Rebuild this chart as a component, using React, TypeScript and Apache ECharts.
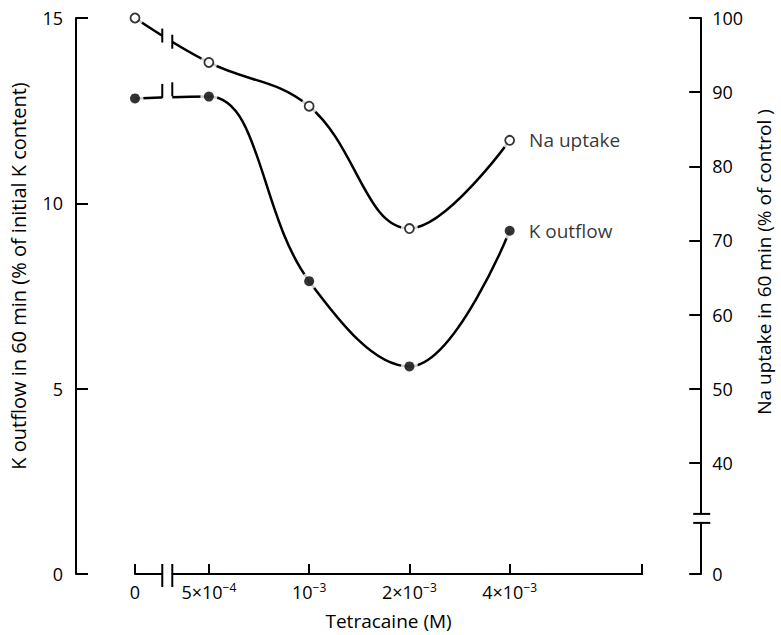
import React, { useEffect, useRef } from 'react';
import * as echarts from 'echarts';

// Tetracaine concentrations (M)
const concentrations = [0, 5e-4, 1e-3, 2e-3, 4e-3];
// K outflow in 60 min (% of initial K content)
const kOutflow = [12.83, 12.88, 7.9, 5.6, 9.26];
// Na uptake in 60 min (% of control)
const naUptake = [100, 94.0, 88.1, 71.6, 83.5];

// Broken log axis: "0" is drawn at ZERO_POSITION, axis ends at AXIS_END
const ZERO_POSITION = 3e-4;
const AXIS_END = 1e-2;
const X_BREAK = 3.75e-4;
const xTickValues = [3e-4, 5e-4, 1e-3, 2e-3, 4e-3, 1e-2];
const xTickLabels = ['0', '5×10{sup|−4}', '10{sup|−3}', '2×10{sup|−3}', '4×10{sup|−3}', ''];

const kTickValues = [0, 5, 10, 15];
const naTickValues = [25, 40, 50, 60, 70, 80, 90, 100];
const naTickLabels = ['0', '40', '50', '60', '70', '80', '90', '100'];
const NA_BREAK = 32.5;

const SMOOTH = 0.4;
const FONT = '"Open Sans", "Noto Sans", sans-serif';
const INK = '#000';
const AXIS_OFFSET = 59;

const xPos = (c: number) => (c === 0 ? ZERO_POSITION : c);

function labelFor(values: number[], labels: string[], v: number) {
  let best = 0;
  for (let i = 1; i < values.length; i++) {
    if (Math.abs(Math.log(values[i]) - Math.log(v)) < Math.abs(Math.log(values[best]) - Math.log(v))) best = i;
  }
  return labels[best];
}

function firstSegmentY(p0: number[], p1: number[], p2: number[], x: number) {
  const vx = p2[0] - p0[0];
  const vy = p2[1] - p0[1];
  const d0 = Math.hypot(p1[0] - p0[0], p1[1] - p0[1]);
  const d1 = Math.hypot(p2[0] - p1[0], p2[1] - p1[1]);
  const r = d1 / (d0 + d1);
  const c0 = p0;
  const c1 = [p1[0] - vx * SMOOTH * (1 - r), p1[1] - vy * SMOOTH * (1 - r)];
  const bez = (t: number, i: number) => {
    const u = 1 - t;
    return u * u * u * p0[i] + 3 * u * u * t * c0[i] + 3 * u * t * t * c1[i] + t * t * t * p1[i];
  };
  let lo = 0, hi = 1;
  for (let k = 0; k < 40; k++) {
    const m = (lo + hi) / 2;
    if (bez(m, 0) < x) lo = m; else hi = m;
  }
  return bez((lo + hi) / 2, 1);
}

export default function App() {
  const ref = useRef<HTMLDivElement>(null);
  useEffect(() => {
    if (!ref.current) return;
    const chart = echarts.init(ref.current, undefined, { renderer: 'svg' });
    const kData = concentrations.map((c, i) => [xPos(c), kOutflow[i]]);
    const naData = concentrations.map((c, i) => [xPos(c), naUptake[i]]);
    const last = concentrations.length - 1;
    const seriesLabel = (text: string) => ({
      show: true,
      position: 'right',
      distance: 14,
      formatter: text,
      fontFamily: FONT,
      fontSize: 19,
      color: INK,
    });

    const option: any = {
      animation: false,
      textStyle: { fontFamily: FONT, color: INK },
      grid: { left: 135, right: 133, top: 18, bottom: 58, containLabel: false },
      xAxis: {
        type: 'log',
        logBase: 10,
        min: ZERO_POSITION,
        max: AXIS_END,
        name: 'Tetracaine (M)',
        nameLocation: 'middle',
        nameGap: 37,
        nameTextStyle: { fontFamily: FONT, fontSize: 19, color: INK },
        axisLine: { show: true, lineStyle: { color: INK, width: 2 } },
        axisTick: { show: true, inside: true, length: 10, lineStyle: { color: INK, width: 2 }, customValues: xTickValues },
        axisLabel: {
          show: true,
          margin: 7,
          fontFamily: FONT,
          fontSize: 18,
          lineHeight: 22,
          color: INK,
          customValues: xTickValues.slice(0, 5),
          formatter: (v: number) => labelFor(xTickValues, xTickLabels, v),
          rich: {
            sup: { fontFamily: FONT, fontSize: 12, lineHeight: 12, verticalAlign: 'top', color: INK },
          },
        },
        splitLine: { show: false },
        minorTick: { show: false },
      },
      yAxis: [
        {
          type: 'value',
          position: 'left',
          offset: AXIS_OFFSET,
          min: 0,
          max: 15,
          interval: 5,
          name: 'K outflow in 60 min (% of initial K content)',
          nameLocation: 'middle',
          nameGap: 48,
          nameRotate: 90,
          nameTextStyle: { fontFamily: FONT, fontSize: 20, color: INK, padding: [0, 0, 0, 40] },
          axisLine: { show: true, lineStyle: { color: INK, width: 2 } },
          axisTick: { show: true, inside: true, length: 12, lineStyle: { color: INK, width: 2 }, customValues: kTickValues },
          axisLabel: { show: true, margin: 13, fontFamily: FONT, fontSize: 18, color: INK, customValues: kTickValues },
          splitLine: { show: false },
        },
        {
          type: 'value',
          position: 'right',
          offset: AXIS_OFFSET,
          min: 25,
          max: 100,
          name: 'Na uptake in 60 min (% of control )',
          nameLocation: 'middle',
          nameGap: 46,
          nameRotate: 90,
          nameTextStyle: { fontFamily: FONT, fontSize: 19, color: INK, padding: [0, 0, 0, 68] },
          axisLine: { show: true, lineStyle: { color: INK, width: 2 } },
          axisTick: { show: true, inside: true, length: 12, lineStyle: { color: INK, width: 2 }, customValues: naTickValues },
          axisLabel: {
            show: true,
            margin: 11,
            fontFamily: FONT,
            fontSize: 18,
            color: INK,
            customValues: naTickValues,
            formatter: (v: number) => naTickLabels[naTickValues.indexOf(Math.round(v))] ?? String(v),
          },
          splitLine: { show: false },
        },
      ],
      series: [
        {
          name: 'K outflow line',
          type: 'line',
          data: kData,
          yAxisIndex: 0,
          smooth: SMOOTH,
          showSymbol: false,
          clip: false,
          silent: true,
          lineStyle: { color: INK, width: 2.5 },
          z: 2,
        },
        {
          name: 'Na uptake line',
          type: 'line',
          data: naData,
          yAxisIndex: 1,
          smooth: SMOOTH,
          showSymbol: false,
          clip: false,
          silent: true,
          lineStyle: { color: INK, width: 2.5 },
          z: 2,
        },
        {
          type: 'scatter',
          data: kData,
          yAxisIndex: 0,
          symbol: 'circle',
          symbolSize: 17,
          itemStyle: { color: '#fff' },
          clip: false,
          silent: true,
          z: 3,
        },
        {
          type: 'scatter',
          data: naData,
          yAxisIndex: 1,
          symbol: 'circle',
          symbolSize: 17,
          itemStyle: { color: '#fff' },
          clip: false,
          silent: true,
          z: 3,
        },
        {
          name: 'K outflow',
          type: 'scatter',
          yAxisIndex: 0,
          data: kData.map((d, i) => (i === last ? { value: d, label: seriesLabel('K outflow') } : { value: d })),
          symbol: 'circle',
          symbolSize: 10,
          itemStyle: { color: INK },
          clip: false,
          z: 4,
        },
        {
          name: 'Na uptake',
          type: 'scatter',
          yAxisIndex: 1,
          data: naData.map((d, i) => (i === last ? { value: d, label: seriesLabel('Na uptake') } : { value: d })),
          symbol: 'circle',
          symbolSize: 9,
          itemStyle: { color: '#fff', borderColor: INK, borderWidth: 1.8 },
          clip: false,
          z: 4,
        },
      ],
    };
    chart.setOption(option);

    // Axis / curve break decorations, positioned through the chart's own scales
    const toPx = (yAxisIndex: number, x: number, y: number) =>
      chart.convertToPixel({ xAxisIndex: 0, yAxisIndex } as any, [x, y]) as number[];
    const bx = toPx(0, X_BREAK, 0)[0];
    const axisY = toPx(0, ZERO_POSITION, 0)[1];
    const gap = 5;
    const els: any[] = [];
    els.push({ type: 'rect', z: 100, shape: { x: bx - gap, y: 0, width: gap * 2, height: axisY + 2 }, style: { fill: '#fff' } });
    [bx - gap, bx + gap].forEach((x) => {
      els.push({ type: 'line', z: 101, shape: { x1: x, y1: axisY - 10, x2: x, y2: axisY + 13 }, style: { stroke: INK, lineWidth: 2 } });
    });
    const curves: [number, number[]][] = [
      [0, kOutflow],
      [1, naUptake],
    ];
    curves.forEach(([ai, vals]) => {
      const p = [0, 1, 2].map((i) => toPx(ai, xPos(concentrations[i]), vals[i]));
      [bx - gap, bx + gap].forEach((x) => {
        const y = firstSegmentY(p[0], p[1], p[2], x);
        els.push({ type: 'line', z: 101, shape: { x1: x, y1: y - 7, x2: x, y2: y + 7 }, style: { stroke: INK, lineWidth: 2 } });
      });
    });
    const rx = toPx(0, AXIS_END, 0)[0] + AXIS_OFFSET;
    const ry = toPx(1, AXIS_END, NA_BREAK)[1];
    const rg = 4.5;
    els.push({ type: 'rect', z: 100, shape: { x: rx - 4, y: ry - rg, width: 8, height: rg * 2 }, style: { fill: '#fff' } });
    [ry - rg, ry + rg].forEach((y) => {
      els.push({ type: 'line', z: 101, shape: { x1: rx - 8, y1: y, x2: rx + 9, y2: y }, style: { stroke: INK, lineWidth: 2 } });
    });
    chart.setOption({ graphic: { elements: els } });

    return () => chart.dispose();
  }, []);
  return <div ref={ref} style={{ position: 'fixed', left: 0, top: 0, width: 781, height: 635, background: '#fff' }} />;
}
